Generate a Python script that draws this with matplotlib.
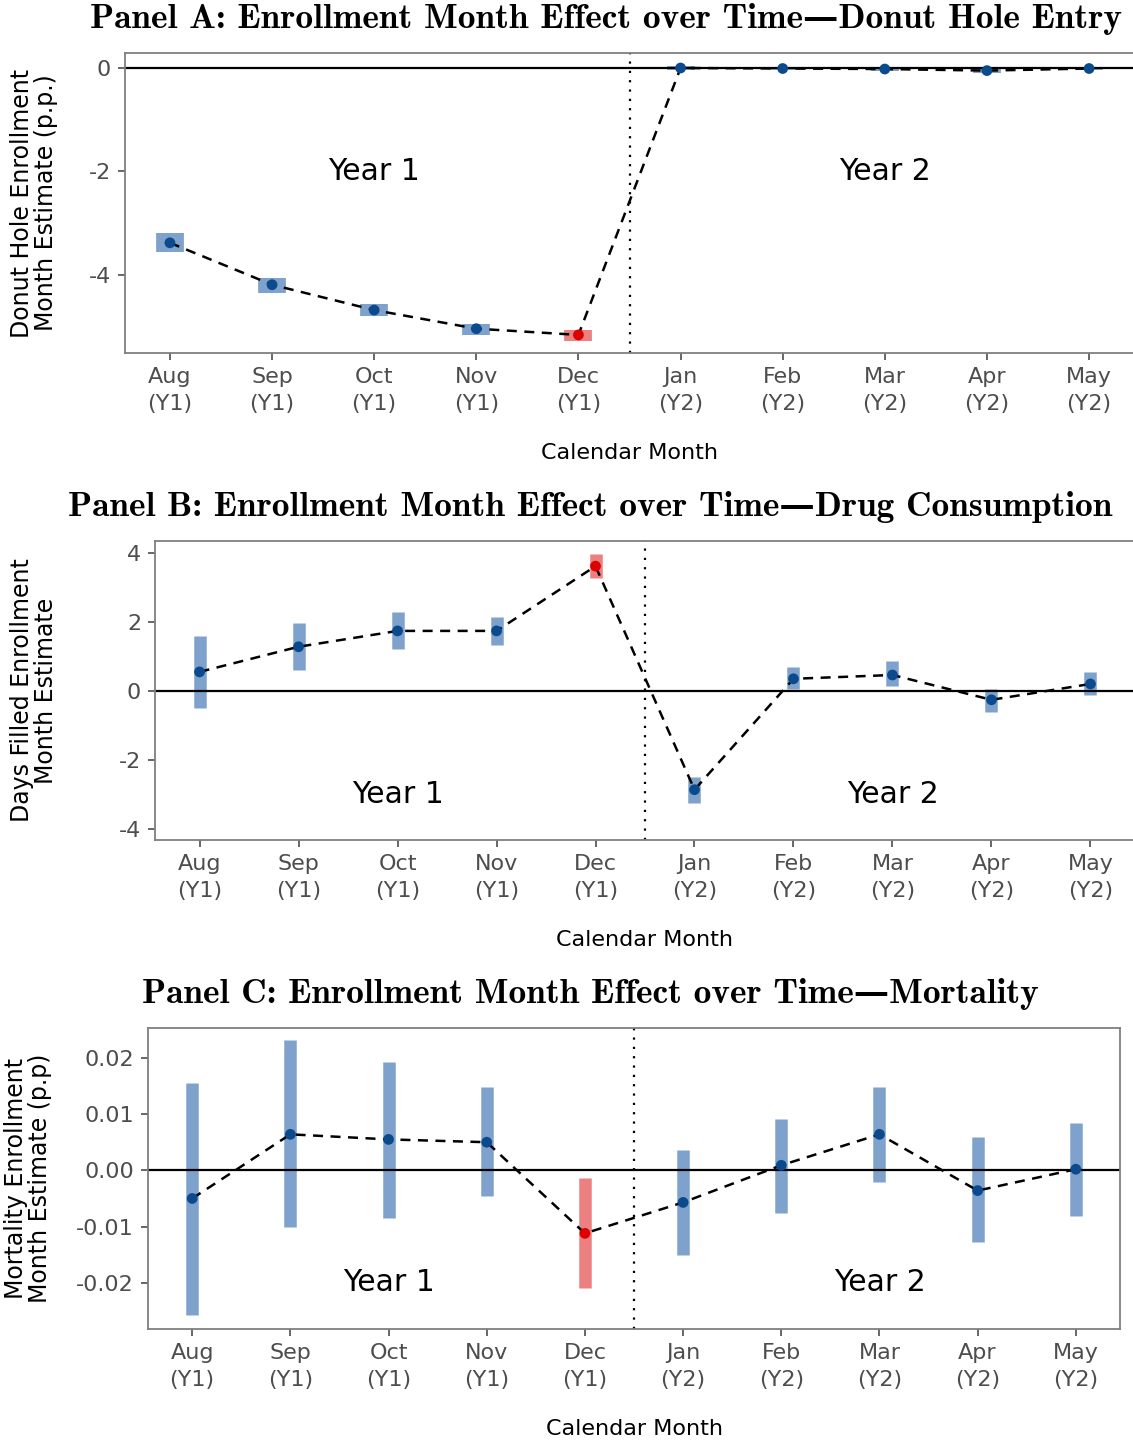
import matplotlib
matplotlib.use("Agg")
import matplotlib.pyplot as plt

# shared categories
months = ["Aug\n(Y1)", "Sep\n(Y1)", "Oct\n(Y1)", "Nov\n(Y1)", "Dec\n(Y1)",
          "Jan\n(Y2)", "Feb\n(Y2)", "Mar\n(Y2)", "Apr\n(Y2)", "May\n(Y2)"]
xpos = list(range(1, 11))
dec_idx = 4

# Panel A: donut hole entry
a_est = [-3.38, -4.19, -4.68, -5.04, -5.16, 0.0, -0.01, -0.02, -0.05, -0.01]
a_lo = [-3.56, -4.35, -4.79, -5.16, -5.28, -0.04, -0.04, -0.05, -0.10, -0.04]
a_hi = [-3.19, -4.06, -4.56, -4.95, -5.06, 0.03, 0.02, 0.01, 0.00, 0.02]

# Panel B: drug consumption
b_est = [0.55, 1.28, 1.74, 1.74, 3.62, -2.87, 0.35, 0.46, -0.26, 0.20]
b_lo = [-0.49, 0.61, 1.22, 1.33, 3.28, -3.25, 0.06, 0.14, -0.61, -0.12]
b_hi = [1.59, 1.97, 2.29, 2.14, 3.97, -2.49, 0.70, 0.87, 0.06, 0.55]

# Panel C: mortality
c_est = [-0.0050, 0.0064, 0.0055, 0.0050, -0.0112, -0.0057, 0.0009, 0.0064, -0.0036, 0.0002]
c_lo = [-0.0258, -0.0101, -0.0084, -0.0046, -0.0210, -0.0151, -0.0075, -0.0021, -0.0128, -0.0082]
c_hi = [0.0156, 0.0231, 0.0192, 0.0148, -0.0014, 0.0037, 0.0092, 0.0149, 0.0060, 0.0085]

W, H = 1133, 1442
fig = plt.figure(figsize=(W / 100, H / 100), dpi=100)

BAR_BLUE = "#7ea2cb"
BAR_RED = "#ec8080"
PT_BLUE = "#0b4a8c"
PT_RED = "#dd0000"
TITLE_FONT = ["cmb10", "DejaVu Serif"]


def px_axes(left, right, top, bottom):
    return fig.add_axes([left / W, 1 - bottom / H, (right - left) / W, (bottom - top) / H])


def draw_panel(ax, est, lo, hi, ylim, yticks, yticklabels, ylabel, title,
               year_y, bar_w, label_x, title_x, title_y):
    cols = [BAR_RED if i == dec_idx else BAR_BLUE for i in range(len(est))]
    ax.vlines(xpos, lo, hi, colors=cols, lw=bar_w, zorder=1)
    ax.axhline(0, color="black", lw=1.6, zorder=2)
    ax.axvline(5.5, color="black", lw=1.6, ls=(0, (1, 3.2)), zorder=2)
    ax.plot(xpos, est, color="black", lw=1.8, ls=(0, (4, 3)), zorder=3)
    pcols = [PT_RED if i == dec_idx else PT_BLUE for i in range(len(est))]
    ax.scatter(xpos, est, s=60, c=pcols, zorder=4, linewidths=0)
    ax.text(3, year_y, "Year 1", fontsize=21.5, ha="center", va="center")
    ax.text(8, year_y, "Year 2", fontsize=21.5, ha="center", va="center")
    ax.set_xlim(0.55, 10.45)
    ax.set_ylim(*ylim)
    ax.set_xticks(xpos)
    ax.set_xticklabels(months, fontsize=16, color="#4d4d4d", linespacing=1.45)
    ax.set_yticks(yticks)
    ax.set_yticklabels(yticklabels, fontsize=16, color="#4d4d4d")
    ax.tick_params(length=5, width=1.2, color="#4d4d4d", pad=5)
    for s in ax.spines.values():
        s.set_color("#7f7f7f")
        s.set_linewidth(1.3)
    ax.set_xlabel("Calendar Month", fontsize=16, labelpad=21)
    ax.set_ylabel(ylabel, fontsize=17, linespacing=1.0)
    ax.yaxis.set_label_coords(label_x, 0.5)
    fig.text(title_x / W, 1 - title_y / H, title, fontsize=25.5, fontweight="bold",
             family=TITLE_FONT, ha="center", va="center")


axA = px_axes(125, 1134, 53, 353)
draw_panel(axA, a_est, a_lo, a_hi, (-5.51, 0.29), [0, -2, -4], ["0", "-2", "-4"],
           "Donut Hole Enrollment\nMonth Estimate (p.p.)",
           "Panel A: Enrollment Month Effect over Time\u2014Donut Hole Entry",
           -2.0, 20, -0.066, 606, 19)
axA.set_xlim(0.56, 10.44)

axB = px_axes(155, 1135, 541, 840)
draw_panel(axB, b_est, b_lo, b_hi, (-4.33, 4.35), [4, 2, 0, -2, -4],
           ["4", "2", "0", "-2", "-4"],
           "Days Filled Enrollment\nMonth Estimate",
           "Panel B: Enrollment Month Effect over Time\u2014Drug Consumption",
           -3.0, 9, -0.099, 590, 507)

axC = px_axes(148, 1120, 1028, 1329)
draw_panel(axC, c_est, c_lo, c_hi, (-0.0282, 0.0253),
           [0.02, 0.01, 0.0, -0.01, -0.02],
           ["0.02", "0.01", "0.00", "-0.01", "-0.02"],
           "Mortality Enrollment\nMonth Estimate (p.p)",
           "Panel C: Enrollment Month Effect over Time\u2014Mortality",
           -0.02, 9, -0.099, 590, 994)

fig.savefig("out.png", dpi=100)
